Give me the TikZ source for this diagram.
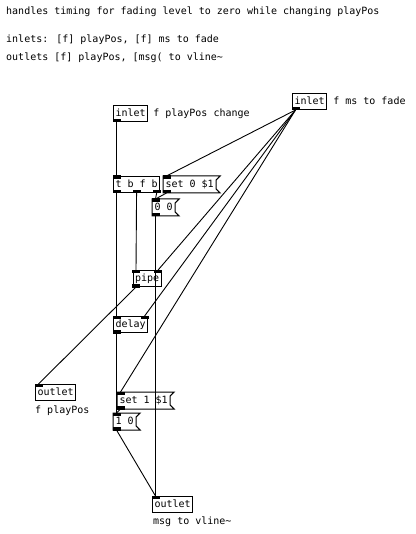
\documentclass[tikz,border=0pt]{standalone}
\usepackage{fontspec}
\newfontfamily\pdfont{DejaVu Sans Mono}
\usetikzlibrary{positioning, calc}

\begin{document}
\begin{tikzpicture}[x=1pt, y=-1pt]
    \tikzstyle{obj} = [draw, line width=1pt, anchor=north west, font=\pdfont\fontsize{10}{12}\selectfont, inner xsep=2pt, inner ysep=0pt, minimum height=16pt, text height=7.5pt, text depth=2.3pt];
    \tikzstyle{msg} = [obj, draw=none];
    \tikzstyle{comment} = [font=\pdfont\fontsize{10}{12}\selectfont, inner sep=0pt, anchor=west, text height=7.5pt, text depth=2.3pt];
    \tikzstyle{wire} = [line width=0.9pt];

    \useasboundingbox (0, 0) rectangle (415, 534);

    % header comments
    \node[comment] at (6, 12) (title) {handles timing for fading level to zero while changing playPos};
    \node[comment] at (6, 40) (inlets) {inlets: [f] playPos, [f] ms to fade};
    \node[comment] at (6, 58) (outlets) {outlets [f] playPos, [msg( to vline\textasciitilde};

    % boxes
    \node[obj] at (113, 105) (inL) {inlet};
    \node[obj] at (292, 93) (inR) {inlet};
    \node[comment, right = 5pt of inL] (cmtL) {f playPos change};
    \node[comment, right = 6pt of inR] (cmtR) {f ms to fade};

    \node[obj] at (113, 176) (trig) {t b f b};
    \node[msg] at (163, 176) (setzero) {set 0 \$1};
    \node[msg] at (152, 199) (zerozero) {0 0};

    \node[obj] at (132.5, 270) (pipe) {pipe};
    \node[obj] at (113, 316) (delay) {delay};

    \node[msg] at (117, 392) (setone) {set 1 \$1};
    \node[msg] at (113, 413) (onezero) {1 0};

    \node[obj] at (35, 384) (outL) {outlet};
    \node[comment] at (35, 411) (cmtOutL) {f playPos};
    \node[obj] at (152, 496) (outB) {outlet};
    \node[comment] at (153, 522) (cmtOutB) {msg to vline\textasciitilde};

    % message box flags
    \foreach \m in {setzero, zerozero, setone, onezero}
        \draw[line width=1pt] (\m.north west) -- ($(\m.north east)+(4,0)$) -- ($(\m.north east)+(0,4)$)
            -- ($(\m.south east)+(0,-4)$) -- ($(\m.south east)+(4,0)$) -- (\m.south west) -- cycle;

    % inlets and outlets
    \foreach \n in {inL, inR, trig, setzero, zerozero, pipe, delay, setone, onezero}
        \fill ([shift={(-0.5,0.5)}]\n.south west) rectangle ++(8,-3.5);
    \foreach \n in {trig, setzero, zerozero, pipe, delay, setone, onezero, outL, outB}
        \fill ([shift={(-0.5,-0.5)}]\n.north west) rectangle ++(8,3.5);
    \foreach \n in {pipe, delay}
        \fill ([shift={(0.5,-0.5)}]\n.north east) rectangle ++(-8,3.5);
    \fill ([shift={(-4,0.5)}]trig.south) rectangle ++(8,-3.5);
    \fill ([shift={(0.5,0.5)}]trig.south east) rectangle ++(-8,-3.5);

    % connections
    \draw[wire] ([xshift=3.5pt]inL.south west) -- ([xshift=3.5pt]trig.north west);
    \draw[wire] ([xshift=3.5pt]trig.south west) -- ([xshift=3.5pt]delay.north west);
    \draw[wire] (trig.south) -- ([xshift=3.5pt]pipe.north west);
    \draw[wire] ([xshift=-3.5pt]trig.south east) -- ([xshift=3.5pt]zerozero.north west);
    \draw[wire] ([xshift=3.5pt]setzero.south west) -- ([xshift=3.5pt]zerozero.north west);
    \draw[wire] ([xshift=3.5pt]zerozero.south west) -- ([xshift=3.5pt]outB.north west);

    \draw[wire] ([xshift=3.5pt]inR.south west) -- ([xshift=3.5pt]setzero.north west);
    \draw[wire] ([xshift=3.5pt]inR.south west) -- ([xshift=-3.5pt]pipe.north east);
    \draw[wire] ([xshift=3.5pt]inR.south west) -- ([xshift=-3.5pt]delay.north east);
    \draw[wire] ([xshift=3.5pt]inR.south west) -- ([xshift=3.5pt]setone.north west);

    \draw[wire] ([xshift=3.5pt]pipe.south west) -- ([xshift=3.5pt]outL.north west);
    \draw[wire] ([xshift=3.5pt]delay.south west) -- ([xshift=3.5pt]onezero.north west);
    \draw[wire] ([xshift=3.5pt]setone.south west) -- ([xshift=3.5pt]onezero.north west);
    \draw[wire] ([xshift=3.5pt]onezero.south west) -- ([xshift=3.5pt]outB.north west);
\end{tikzpicture}
\end{document}
